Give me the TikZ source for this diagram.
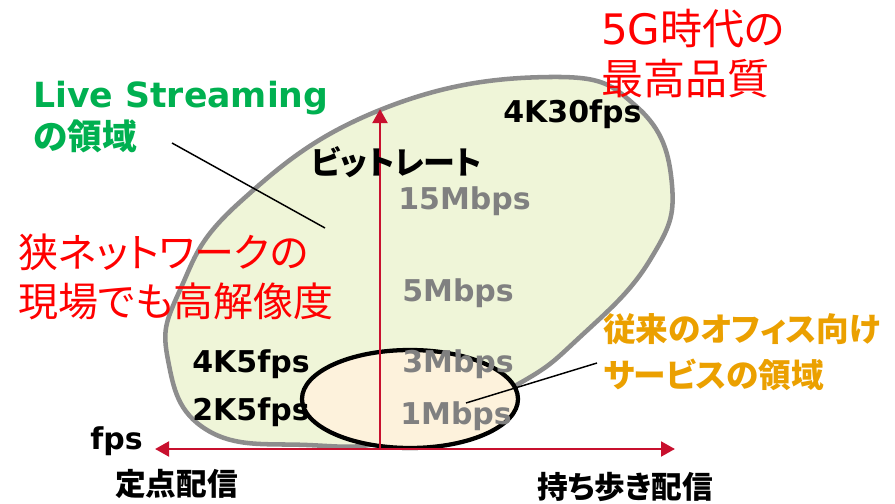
\documentclass[tikz,border=0pt]{standalone}
\usepackage{fontspec}
\setmainfont{DejaVu Sans}
\newfontfamily\jp[RawFeature=+palt]{Noto Sans CJK JP}
\usepackage{xcolor}
\usetikzlibrary{arrows.meta}
\definecolor{axisred}{HTML}{C8102E}
\definecolor{livegreen}{HTML}{00B050}
\definecolor{officeorange}{HTML}{EBA000}
\definecolor{hotred}{HTML}{FF0000}
\definecolor{rategray}{HTML}{808080}
\definecolor{liveFill}{HTML}{EFF5D8}
\definecolor{officeFill}{HTML}{FDF2DC}
\tikzset{
  lab/.style={inner sep=0pt, anchor=west, align=left, font=\bfseries\fontsize{22.5}{27}\selectfont},
  rate/.style={lab, text=rategray},
  axislab/.style={lab, font=\jp\bfseries\fontsize{23}{27}\selectfont},
  note/.style={lab, font=\jp\fontsize{30}{37}\selectfont, text=hotred},
  axis/.style={draw=axisred, line width=2.2pt, -{Triangle[width=11pt,length=10.5pt]}},
  leader/.style={draw=black, line width=1.1pt},
  liveShape/.style={fill=liveFill, draw=rategray!90, line width=3.4pt},
  officeShape/.style={fill=officeFill, draw=black, line width=3.2pt}
}
\begin{document}
\begin{tikzpicture}[x=0.75pt, y=-0.75pt]
\useasboundingbox (0,0) rectangle (895,503);

% live streaming region
\draw[liveShape] plot[smooth cycle, tension=0.75] coordinates {
  (550,77) (637,107) (672,185) (650,260) (580,337) (513,387)
  (400,438) (307,445) (207,430) (168,360) (180,290) (240,202)
  (380,110)};

% office region
\draw[officeShape] (410,399) ellipse [x radius=81pt, y radius=36.75pt];

% axes
\coordinate (origin) at (380,449);
\coordinate (leftEnd) at (155,449);
\coordinate (rightEnd) at (675,449);
\coordinate (topEnd) at (380,109);
\draw[axis, {Triangle[width=11pt,length=10.5pt]}-{Triangle[width=11pt,length=10.5pt]}] (leftEnd) -- (rightEnd);
\draw[axis] (origin) -- (topEnd);

% labels
\node[lab, text=livegreen, font=\bfseries\fontsize{26}{31.5}\selectfont] (live) at (33,117)
  {Live Streaming\\{\jp の領域}};
\node[note, font=\fontsize{31.5}{37.5}\selectfont] (fiveG) at (601,54) {5G{\jp 時代の}\\{\jp 最高品質}};
\node[note] (narrow) at (18,277) {狭ネットワークの\\現場でも高解像度};
\node[lab, text=officeorange, font=\jp\bfseries\fontsize{24.5}{34}\selectfont] (office) at (603,352)
  {従来のオフィス向け\\サービスの領域};
\node[axislab, font=\jp\bfseries\fontsize{24}{28}\selectfont] (bitrate) at (311,162) {ビットレート};
\node[lab] (k30) at (503,114) {4K30fps};
\node[lab] (k5) at (192,364) {4K5fps};
\node[lab] (k2) at (192,412) {2K5fps};
\node[lab] (fps) at (90,441) {fps};
\node[axislab] (fixed) at (115,484) {定点配信};
\node[axislab] (mobile) at (537,487) {持ち歩き配信};
\node[rate] (m15) at (398,201) {15Mbps};
\node[rate] (m5) at (402,293) {5Mbps};
\node[rate] (m3) at (402,364) {3Mbps};
\node[rate] (m1) at (400,416) {1Mbps};

% leader lines
\coordinate (liveIn) at (325,228);
\coordinate (liveOut) at (172,143);
\coordinate (officeIn) at (466,403);
\coordinate (officeOut) at (597,363);
\draw[leader] (liveOut) -- (liveIn);
\draw[leader] (officeOut) -- (officeIn);
\end{tikzpicture}
\end{document}
